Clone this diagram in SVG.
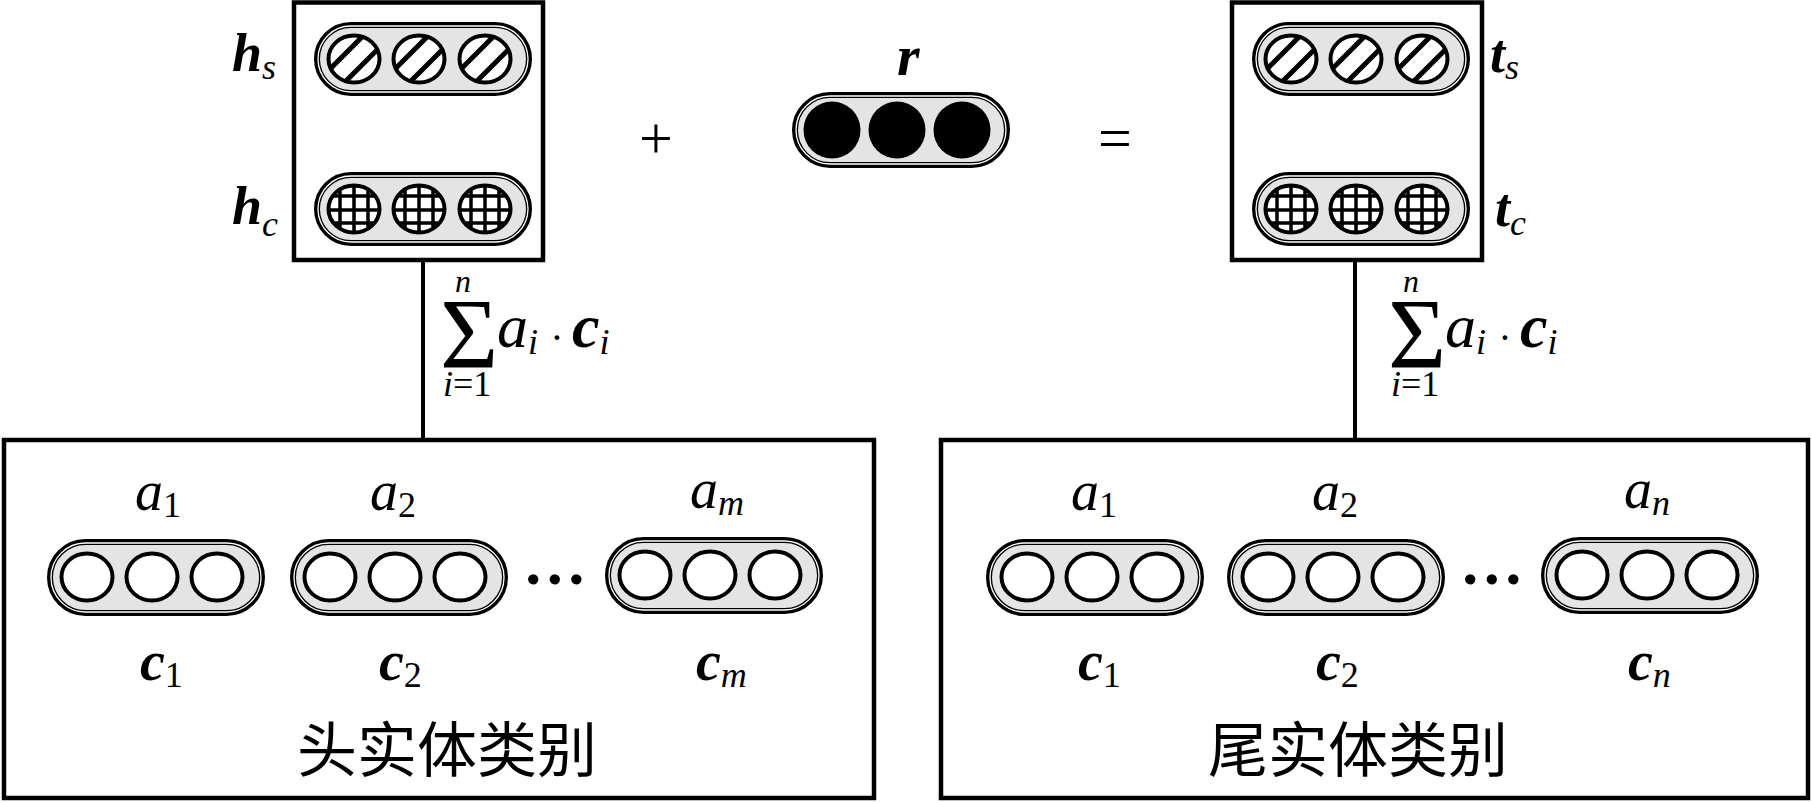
<svg xmlns="http://www.w3.org/2000/svg" xmlns:xlink="http://www.w3.org/1999/xlink" width="1812" height="803" viewBox="0 0 1812 803">
<style>
.box{fill:#fff;stroke:#000;stroke-width:4.5}
.pill{fill:#e4e4e4;stroke:#000;stroke-width:6}
.pillin{fill:none;stroke:#fff;stroke-width:1.3}
.conn{stroke:#000;stroke-width:4;fill:none}
.bi{font-weight:bold;font-style:italic}
.it{font-style:italic}
</style>
<defs>
<clipPath id="ec"><ellipse cx="0" cy="0" rx="25.5" ry="23.5"/></clipPath>
<g id="oc"><ellipse cx="0" cy="0" rx="25.5" ry="23.5" fill="#fff" stroke="#000" stroke-width="4"/></g>
<g id="hc">
<ellipse cx="0" cy="0" rx="25.5" ry="23.5" fill="#fff"/>
<g clip-path="url(#ec)" stroke="#000" stroke-width="5">
<line x1="-45" y1="31" x2="31" y2="-45"/>
<line x1="-31" y1="45" x2="45" y2="-31"/>
</g>
<ellipse cx="0" cy="0" rx="25.5" ry="23.5" fill="none" stroke="#000" stroke-width="4"/>
</g>
<g id="gc">
<ellipse cx="0" cy="0" rx="25.5" ry="23.5" fill="#fff"/>
<g clip-path="url(#ec)" stroke="#000" stroke-width="3.5">
<line x1="-14" y1="-30" x2="-14" y2="30"/>
<line x1="0" y1="-30" x2="0" y2="30"/>
<line x1="14" y1="-30" x2="14" y2="30"/>
<line x1="-30" y1="-13" x2="30" y2="-13"/>
<line x1="-30" y1="1" x2="30" y2="1"/>
<line x1="-30" y1="14" x2="30" y2="14"/>
</g>
<ellipse cx="0" cy="0" rx="25.5" ry="23.5" fill="none" stroke="#000" stroke-width="4"/>
</g>
<g id="sum" font-family="Liberation Serif, serif">
<text x="440" y="367" font-size="100" font-family="Liberation Serif, serif">Σ</text>
<text class="it" x="455" y="292" font-size="32" font-family="Liberation Serif, serif">n</text>
<text x="443" y="396" font-size="36" font-family="Liberation Serif, serif"><tspan class="it">i</tspan>=1</text>
<text class="it" x="497" y="347" font-size="62" font-family="Liberation Serif, serif">a<tspan font-size="36" dy="7">i</tspan></text>
<text x="557" y="351" font-size="40" text-anchor="middle" font-family="Liberation Serif, serif">·</text>
<text class="bi" x="572" y="347" font-size="62" font-family="Liberation Serif, serif">c<tspan font-size="36" font-weight="normal" dy="7">i</tspan></text>
</g>
</defs>

<g id="connectors">
<line class="conn" x1="423" y1="260" x2="423" y2="440"/>
<line class="conn" x1="1355" y1="260" x2="1355" y2="440"/>
</g>

<g id="head-entity" font-family="Liberation Serif, serif">
<rect class="box" x="294" y="2.5" width="249" height="257.5"/>
<rect class="pill" x="317" y="25" width="212" height="68" rx="34"/>
<rect class="pillin" x="318" y="26" width="210" height="66" rx="33"/>
<use xlink:href="#hc" x="354" y="59"/>
<use xlink:href="#hc" x="419" y="59"/>
<use xlink:href="#hc" x="485" y="59"/>
<rect class="pill" x="317" y="175" width="212" height="68" rx="34"/>
<rect class="pillin" x="318" y="176" width="210" height="66" rx="33"/>
<use xlink:href="#gc" x="354" y="209"/>
<use xlink:href="#gc" x="419" y="209"/>
<use xlink:href="#gc" x="485" y="209"/>
<text class="bi" x="232" y="71" font-size="54" font-family="Liberation Serif, serif">h<tspan font-size="36" font-weight="normal" dy="8">s</tspan></text>
<text class="bi" x="232" y="224" font-size="54" font-family="Liberation Serif, serif">h<tspan font-size="36" font-weight="normal" dy="12">c</tspan></text>
</g>

<g id="plus"><text x="656" y="158" font-size="60" text-anchor="middle" font-family="Liberation Serif, serif">+</text></g>

<g id="relation">
<text class="bi" x="897" y="75" font-size="58" font-family="Liberation Serif, serif">r</text>
<rect class="pill" x="795" y="95" width="212" height="70" rx="35"/>
<rect class="pillin" x="796" y="96" width="210" height="68" rx="34"/>
<circle cx="832" cy="130" r="28.5" fill="#000"/>
<circle cx="897" cy="130" r="28.5" fill="#000"/>
<circle cx="962" cy="130" r="28.5" fill="#000"/>
</g>

<g id="equals"><text x="1115" y="158" font-size="60" text-anchor="middle" font-family="Liberation Serif, serif">=</text></g>

<g id="tail-entity">
<rect class="box" x="1232" y="2.5" width="250" height="257.5"/>
<rect class="pill" x="1255" y="25" width="212" height="68" rx="34"/>
<rect class="pillin" x="1256" y="26" width="210" height="66" rx="33"/>
<use xlink:href="#hc" x="1291" y="59"/>
<use xlink:href="#hc" x="1356" y="59"/>
<use xlink:href="#hc" x="1422" y="59"/>
<rect class="pill" x="1255" y="175" width="212" height="68" rx="34"/>
<rect class="pillin" x="1256" y="176" width="210" height="66" rx="33"/>
<use xlink:href="#gc" x="1291" y="209"/>
<use xlink:href="#gc" x="1356" y="209"/>
<use xlink:href="#gc" x="1422" y="209"/>
<text class="bi" x="1490" y="72" font-size="54" font-family="Liberation Serif, serif">t<tspan font-size="36" font-weight="normal" dy="7">s</tspan></text>
<text class="bi" x="1495" y="226" font-size="54" font-family="Liberation Serif, serif">t<tspan font-size="36" font-weight="normal" dy="9">c</tspan></text>
</g>

<g id="head-sum"><use xlink:href="#sum"/></g>
<g id="tail-sum"><use xlink:href="#sum" x="948"/></g>

<g id="head-types">
<rect class="box" x="4" y="440" width="870" height="358"/>
<rect class="pill" x="50" y="542" width="212" height="71" rx="35.5"/>
<rect class="pillin" x="51" y="543" width="210" height="69" rx="34.5"/>
<use xlink:href="#oc" x="87" y="577"/>
<use xlink:href="#oc" x="152" y="577"/>
<use xlink:href="#oc" x="217" y="577"/>
<rect class="pill" x="293" y="542" width="212" height="71" rx="35.5"/>
<rect class="pillin" x="294" y="543" width="210" height="69" rx="34.5"/>
<use xlink:href="#oc" x="330" y="577"/>
<use xlink:href="#oc" x="395" y="577"/>
<use xlink:href="#oc" x="460" y="577"/>
<rect class="pill" x="608" y="540" width="212" height="71" rx="35.5"/>
<rect class="pillin" x="609" y="541" width="210" height="69" rx="34.5"/>
<use xlink:href="#oc" x="645" y="575"/>
<use xlink:href="#oc" x="710" y="575"/>
<use xlink:href="#oc" x="775" y="575"/>
<text class="bi" x="557" y="584" font-size="64" text-anchor="middle" font-family="Liberation Serif, serif">…</text>
<text class="it" x="135" y="510" font-size="56" font-family="Liberation Serif, serif">a<tspan font-size="36" font-style="normal" dy="7">1</tspan></text>
<text class="it" x="370" y="510" font-size="56" font-family="Liberation Serif, serif">a<tspan font-size="36" font-style="normal" dy="7">2</tspan></text>
<text class="it" x="690" y="508" font-size="56" font-family="Liberation Serif, serif">a<tspan font-size="36" dy="7">m</tspan></text>
<text class="bi" x="140" y="680" font-size="56" font-family="Liberation Serif, serif">c<tspan font-size="36" font-weight="normal" font-style="normal" dy="7">1</tspan></text>
<text class="bi" x="379" y="680" font-size="56" font-family="Liberation Serif, serif">c<tspan font-size="36" font-weight="normal" font-style="normal" dy="7">2</tspan></text>
<text class="bi" x="696" y="680" font-size="56" font-family="Liberation Serif, serif">c<tspan font-size="36" font-weight="normal" dy="7">m</tspan></text>
<text x="447" y="772" font-size="60" text-anchor="middle" font-family="Liberation Serif, Noto Sans CJK SC, serif">头实体类别</text>
</g>

<g id="tail-types">
<rect class="box" x="941" y="440" width="867" height="358"/>
<rect class="pill" x="989" y="542" width="212" height="71" rx="35.5"/>
<rect class="pillin" x="990" y="543" width="210" height="69" rx="34.5"/>
<use xlink:href="#oc" x="1027" y="577"/>
<use xlink:href="#oc" x="1092" y="577"/>
<use xlink:href="#oc" x="1157" y="577"/>
<rect class="pill" x="1230" y="542" width="212" height="71" rx="35.5"/>
<rect class="pillin" x="1231" y="543" width="210" height="69" rx="34.5"/>
<use xlink:href="#oc" x="1268" y="577"/>
<use xlink:href="#oc" x="1333" y="577"/>
<use xlink:href="#oc" x="1398" y="577"/>
<rect class="pill" x="1544" y="540" width="212" height="71" rx="35.5"/>
<rect class="pillin" x="1545" y="541" width="210" height="69" rx="34.5"/>
<use xlink:href="#oc" x="1582" y="575"/>
<use xlink:href="#oc" x="1647" y="575"/>
<use xlink:href="#oc" x="1712" y="575"/>
<text class="bi" x="1494" y="584" font-size="64" text-anchor="middle" font-family="Liberation Serif, serif">…</text>
<text class="it" x="1071" y="510" font-size="56" font-family="Liberation Serif, serif">a<tspan font-size="36" font-style="normal" dy="7">1</tspan></text>
<text class="it" x="1312" y="510" font-size="56" font-family="Liberation Serif, serif">a<tspan font-size="36" font-style="normal" dy="7">2</tspan></text>
<text class="it" x="1624" y="508" font-size="56" font-family="Liberation Serif, serif">a<tspan font-size="36" dy="7">n</tspan></text>
<text class="bi" x="1078" y="680" font-size="56" font-family="Liberation Serif, serif">c<tspan font-size="36" font-weight="normal" font-style="normal" dy="7">1</tspan></text>
<text class="bi" x="1316" y="680" font-size="56" font-family="Liberation Serif, serif">c<tspan font-size="36" font-weight="normal" font-style="normal" dy="7">2</tspan></text>
<text class="bi" x="1628" y="680" font-size="56" font-family="Liberation Serif, serif">c<tspan font-size="36" font-weight="normal" dy="7">n</tspan></text>
<text x="1358" y="772" font-size="60" text-anchor="middle" font-family="Liberation Serif, Noto Sans CJK SC, serif">尾实体类别</text>
</g>
</svg>
